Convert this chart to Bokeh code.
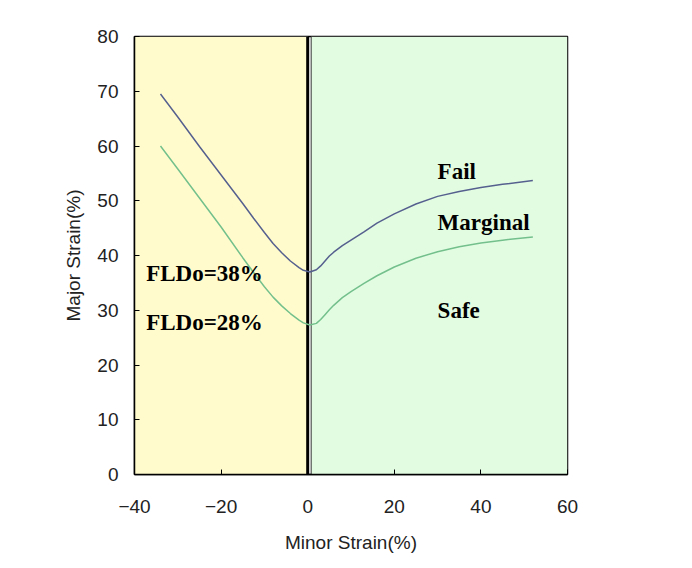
from bokeh.plotting import figure
from bokeh.models import Range1d, FixedTicker
from bokeh.core.properties import value
from bokeh.embed import file_html
from bokeh.resources import INLINE

# Data
fail_x = [-34, -30, -25, -20, -15, -12.5, -10, -8, -6, -4, -2, -1, 0.5, 2, 3, 4, 5, 6, 8, 10, 13, 16, 20, 25, 30, 35, 40, 45, 52]
fail_y = [69.5, 65.3, 59.9, 54.7, 49.5, 46.8, 44.2, 42.2, 40.5, 39.0, 37.8, 37.3, 37.0, 37.4, 38.1, 39.0, 39.9, 40.6, 41.8, 42.8, 44.3, 45.9, 47.6, 49.4, 50.8, 51.7, 52.4, 53.0, 53.7]
safe_x = [-34, -30, -25, -20, -15, -12.5, -10, -8, -6, -4, -2, -1, 0.5, 2, 3, 4, 5, 6, 8, 10, 13, 16, 20, 25, 30, 35, 40, 45, 52]
safe_y = [60.0, 55.8, 50.5, 45.2, 39.6, 36.9, 34.3, 32.4, 30.8, 29.4, 28.2, 27.7, 27.3, 27.6, 28.3, 29.2, 30.1, 30.9, 32.3, 33.4, 34.9, 36.3, 37.9, 39.5, 40.7, 41.6, 42.3, 42.8, 43.4]
x_ticks = [-40, -20, 0, 20, 40, 60]
y_ticks = [0, 10, 20, 30, 40, 50, 60, 70, 80]
labels_left = ["FLDo=38%", "FLDo=28%"]
labels_left_y = [36.8, 27.8]
labels_right = ["Fail", "Marginal", "Safe"]
labels_right_y = [55.4, 46.0, 29.9]

p = figure(width=692, height=568, output_backend="svg", toolbar_location=None,
           x_range=Range1d(-40, 60), y_range=Range1d(0, 80),
           min_border_left=134, min_border_right=125, min_border_top=36, min_border_bottom=94)
p.background_fill_color = "white"
p.border_fill_color = "white"
p.outline_line_color = "black"
p.outline_line_width = 1.5
p.xgrid.visible = False
p.ygrid.visible = False

# Regions
p.quad(left=[-40], right=[0], bottom=[0], top=[80], fill_color="#FFFBCC",
       line_color="#333333", line_width=1)
p.quad(left=[0.8], right=[60], bottom=[0], top=[80], fill_color="#E2FCE2",
       line_color="#333333", line_width=1)
p.segment(x0=[0], y0=[0], x1=[0], y1=[80], line_color="black", line_width=3)

# Curves
p.line(fail_x, fail_y, line_color="#56608E", line_width=1.5)
p.line(safe_x, safe_y, line_color="#74C08C", line_width=1.5)

serif = value("Liberation Serif")
p.text(x=[-37.3] * 2, y=labels_left_y, text=labels_left, text_font=serif,
       text_font_size="23px", text_font_style="bold", text_color="black",
       text_baseline="middle", text_align="left")
p.text(x=[30.0] * 3, y=labels_right_y, text=labels_right, text_font=serif,
       text_font_size="23px", text_font_style="bold", text_color="black",
       text_baseline="middle", text_align="left")

for ax in (p.xaxis[0], p.yaxis[0]):
    ax.major_label_text_font = "Liberation Sans"
    ax.major_label_text_font_size = "19px"
    ax.major_label_text_color = "#222222"
    ax.axis_label_text_font = "Liberation Sans"
    ax.axis_label_text_font_size = "19px"
    ax.axis_label_text_font_style = "normal"
    ax.axis_label_text_color = "#222222"
    ax.minor_tick_line_color = None
    ax.major_tick_in = 5
    ax.major_tick_out = 0
    ax.axis_line_color = "black"
    ax.axis_line_width = 1.5

p.xaxis.ticker = FixedTicker(ticks=x_ticks)
p.yaxis.ticker = FixedTicker(ticks=y_ticks)
p.xaxis.axis_label = "Minor Strain(%)"
p.yaxis.axis_label = "Major Strain(%)"
p.xaxis.major_label_standoff = 25
p.xaxis.axis_label_standoff = 16
p.yaxis.major_label_standoff = 16
p.yaxis.axis_label_standoff = 10

open("out.html", "w").write(file_html(p, INLINE))
